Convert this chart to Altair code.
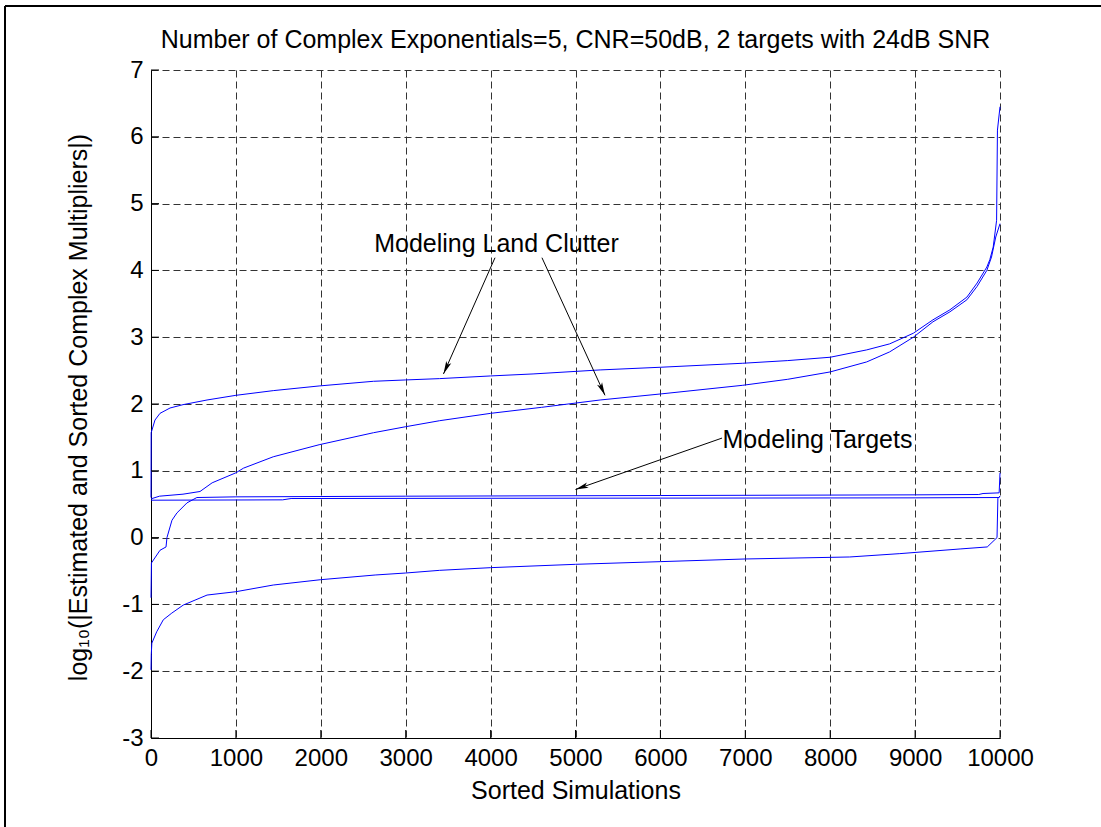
import math
import altair as alt
import pandas as pd

# ---------------- data ----------------
X_TICKS = [0, 1000, 2000, 3000, 4000, 5000, 6000, 7000, 8000, 9000, 10000]
Y_TICKS = [-3, -2, -1, 0, 1, 2, 3, 4, 5, 6, 7]

# upper land-clutter curve
A_X = [0, 2, 47, 106, 224, 377, 660, 1000, 1440, 1980, 2620, 3000, 3400, 4000, 4500,
       5290, 6000, 6970, 7500, 8000, 8430, 8700, 8980, 9210, 9410, 9610, 9730, 9845,
       9880, 9920, 9960, 9970, 10000]
A_Y = [0.6, 1.57, 1.76, 1.86, 1.94, 1.99, 2.06, 2.13, 2.2, 2.27, 2.34, 2.36, 2.38, 2.42, 2.45,
       2.51, 2.55, 2.61, 2.65, 2.7, 2.81, 2.9, 3.06, 3.26, 3.41, 3.6, 3.81, 4.05,
       4.16, 4.35, 4.75, 6.1, 6.45]

# lower land-clutter curve
B_X = [0, 100, 377, 577, 720, 1000, 1090, 1440, 1980, 2620, 3000, 3400, 4000, 4600,
       5290, 6000, 6970, 7500, 8000, 8430, 8700, 8980, 9210, 9410, 9610, 9730, 9845,
       9900, 9950, 10000]
B_Y = [0.58, 0.62, 0.65, 0.69, 0.82, 0.97, 1.04, 1.21, 1.39, 1.57, 1.66, 1.75, 1.86, 1.95,
       2.06, 2.15, 2.28, 2.37, 2.48, 2.63, 2.78, 3.0, 3.23, 3.38, 3.56, 3.76, 4.0,
       4.2, 4.5, 4.7]

# target curve rising from below
T2_X = [0, 5, 106, 177, 188, 247, 306, 424, 540, 1000, 3000, 6000, 9000, 9750, 9800, 9990, 10000]
T2_Y = [-0.9, -0.38, -0.19, -0.14, 0.0, 0.26, 0.37, 0.52, 0.6, 0.61, 0.62, 0.63, 0.64, 0.645, 0.66, 0.67, 0.97]

# flat target curve
T1_X = [0, 1550, 1650, 5000, 9000, 9990, 10000]
T1_Y = [0.56, 0.565, 0.585, 0.59, 0.595, 0.6, 0.62]

# lowest curve
E_X = [0, 3, 10, 67, 145, 245, 380, 660, 1000, 1440, 2000, 2640, 3000, 3400, 4000, 5000,
       6000, 7000, 8230, 8820, 9530, 9850, 9965, 9975, 10000]
E_Y = [-1.98, -1.75, -1.58, -1.41, -1.23, -1.13, -1.01, -0.86, -0.81, -0.71, -0.63, -0.56,
       -0.53, -0.49, -0.45, -0.40, -0.36, -0.32, -0.29, -0.24, -0.17, -0.14, 0.0, 0.59, 0.62]

# annotations (data coordinates)
LABEL_TEXT = ["Modeling Land Clutter", "Modeling Targets"]
LABEL_X = [4069, 7850]
LABEL_Y = [4.28, 1.34]

ARROW_X0 = [4052, 4605, 6726]
ARROW_Y0 = [4.19, 4.19, 1.49]
ARROW_X1 = [3445, 5347, 5000]
ARROW_Y1 = [2.45, 2.13, 0.72]

TITLE = "Number of Complex Exponentials=5, CNR=50dB, 2 targets with 24dB SNR"
X_TITLE = "Sorted Simulations"
Y_TITLE = "log\u2081\u2080(|Estimated and Sorted Complex Multipliers|)"

# ---------------- layout ----------------
W, H = 849, 668
X_DOM = [0, 10000]
Y_DOM = [-3, 7]
FONT = "Liberation Sans"

rows = []
for name, xs, ys in [("A", A_X, A_Y), ("B", B_X, B_Y), ("T1", T1_X, T1_Y),
                     ("T2", T2_X, T2_Y), ("E", E_X, E_Y)]:
    for i, (x, y) in enumerate(zip(xs, ys)):
        rows.append({"series": name, "order": i, "x": x, "y": y})
curves = pd.DataFrame(rows)

xs_ = alt.Scale(domain=X_DOM, nice=False, zero=False)
ys_ = alt.Scale(domain=Y_DOM, nice=False, zero=False)

x_axis = alt.Axis(values=X_TICKS, title=X_TITLE, labelExpr="'' + datum.value",
                  labelFont=FONT, labelFontSize=24, labelColor="black",
                  labelPadding=8, tickSize=0, labelFlush=False, labelOverlap=False,
                  domainColor="black", domainWidth=1,
                  grid=True, gridColor="#333333", gridDash=[7, 4], gridWidth=1,
                  titleFont=FONT, titleFontSize=25, titleFontWeight="normal",
                  titleColor="black", titleBaseline="alphabetic", titleY=60, titleX=W / 2)
y_axis = alt.Axis(values=Y_TICKS, title=Y_TITLE, labelExpr="'' + datum.value",
                  labelFont=FONT, labelFontSize=24, labelColor="black",
                  labelPadding=8, tickSize=0, labelFlush=False, labelOverlap=False,
                  domainColor="black", domainWidth=1,
                  grid=True, gridColor="#333333", gridDash=[7, 4], gridWidth=1,
                  titleFont=FONT, titleFontSize=25, titleFontWeight="normal",
                  titleColor="black", titleAngle=270, titleBaseline="middle",
                  titleX=-73, titleY=H / 2 + 3, titleAlign="center")

lines = alt.Chart(curves).mark_line(color="#0000ff", strokeWidth=1).encode(
    x=alt.X("x:Q", scale=xs_, axis=x_axis),
    y=alt.Y("y:Q", scale=ys_, axis=y_axis),
    detail="series:N",
    order="order:Q",
)

xt = alt.Chart(pd.DataFrame({"v": X_TICKS})).mark_rule(color="black", strokeWidth=1).encode(
    x=alt.X("v:Q", scale=xs_), y=alt.value(H), y2=alt.value(H - 8))
yt = alt.Chart(pd.DataFrame({"v": Y_TICKS})).mark_rule(color="black", strokeWidth=1).encode(
    y=alt.Y("v:Q", scale=ys_), x=alt.value(0), x2=alt.value(8))

labels = alt.Chart(pd.DataFrame({"t": LABEL_TEXT, "x": LABEL_X, "y": LABEL_Y})).mark_text(
    font=FONT, fontSize=25, align="center", baseline="alphabetic", color="black").encode(
    x=alt.X("x:Q", scale=xs_), y=alt.Y("y:Q", scale=ys_), text="t:N")

# arrow angle in screen space
px = W / (X_DOM[1] - X_DOM[0])
py = H / (Y_DOM[1] - Y_DOM[0])
angles = []
for x0, y0, x1, y1 in zip(ARROW_X0, ARROW_Y0, ARROW_X1, ARROW_Y1):
    dx = (x1 - x0) * px
    dy = -(y1 - y0) * py
    angles.append(math.degrees(math.atan2(dx, -dy)) % 360)

arrows = pd.DataFrame({"x0": ARROW_X0, "y0": ARROW_Y0, "x1": ARROW_X1, "y1": ARROW_Y1,
                       "ang": angles})
shafts = alt.Chart(arrows).mark_rule(color="black", strokeWidth=1).encode(
    x=alt.X("x0:Q", scale=xs_), y=alt.Y("y0:Q", scale=ys_),
    x2="x1:Q", y2="y1:Q")
HEAD = "M0,0 L0.55,2.6 L0,2.0 L-0.55,2.6 Z"
heads = alt.Chart(arrows).mark_point(shape=HEAD, filled=True, color="black", size=100,
                                     opacity=1, strokeWidth=0).encode(
    x=alt.X("x1:Q", scale=xs_), y=alt.Y("y1:Q", scale=ys_),
    angle=alt.Angle("ang:Q", scale=None))

one = pd.DataFrame({"a": [0]})
title_mark = alt.Chart(one).mark_text(font=FONT, fontSize=25, align="center",
                                      baseline="alphabetic", color="black").encode(
    x=alt.value(W / 2), y=alt.value(-22), text=alt.value(TITLE))
frame_left = alt.Chart(one).mark_rule(color="black", strokeWidth=2).encode(
    x=alt.value(-146), y=alt.value(-64), y2=alt.value(757))
frame_top = alt.Chart(one).mark_rule(color="black", strokeWidth=2).encode(
    y=alt.value(-64), x=alt.value(-146), x2=alt.value(950))

chart = alt.layer(lines, xt, yt, shafts, heads, labels, title_mark, frame_left, frame_top).properties(
    width=W, height=H,
    autosize=alt.AutoSizeParams(type="none"),
    padding={"left": 151, "top": 70, "right": 101, "bottom": 89},
    background="white",
).configure_view(stroke=None)

chart.save("out.html", embed_options={"renderer": "svg", "actions": False})
